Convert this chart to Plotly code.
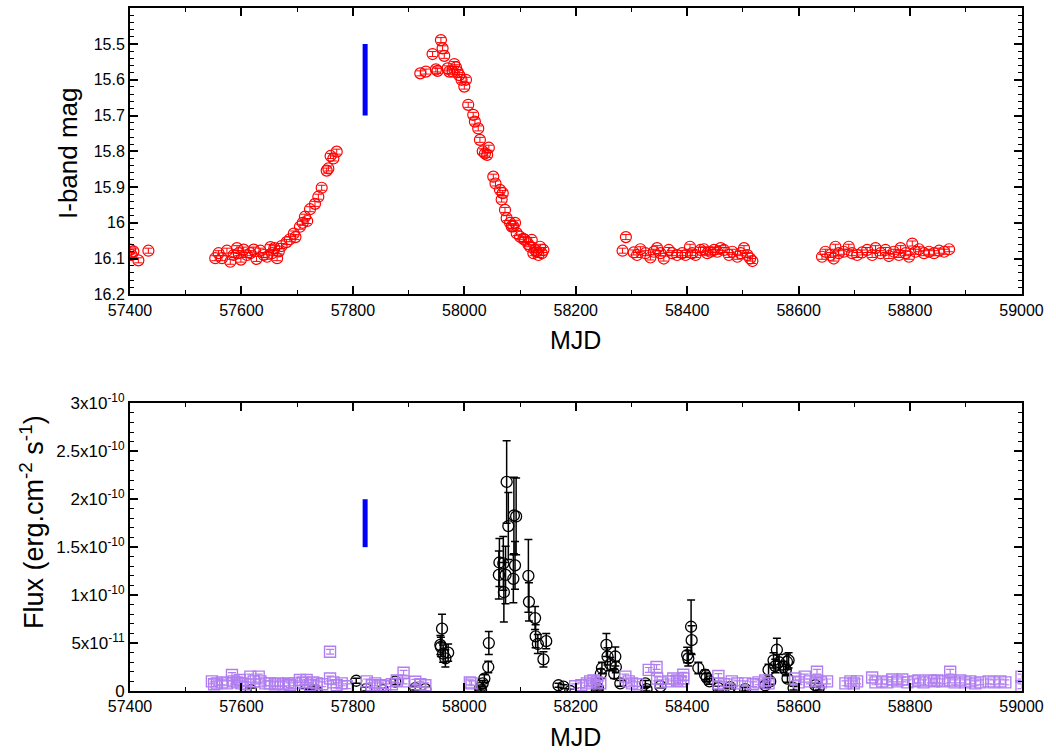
import plotly.graph_objects as go

# ---------------- I-band optical light curve ----------------
iband_mjd = [
    57400, 57403, 57406, 57415, 57433,
    57553, 57559, 57565, 57574, 57580, 57586, 57592, 57595, 57599, 57604,
    57610, 57616, 57622, 57627, 57634, 57640, 57646, 57652, 57655, 57659,
    57664, 57667,
    57672, 57681, 57687, 57694, 57697, 57705, 57710, 57714, 57718, 57723,
    57732, 57738, 57744, 57753, 57756, 57760, 57765, 57771,
    57921, 57931, 57943, 57949, 57952, 57958, 57961, 57964, 57970, 57973,
    57979, 57982, 57985, 57988, 57991, 57995, 58000, 58003, 58007, 58016,
    58019, 58025, 58028, 58033, 58037, 58041, 58044, 58052, 58056, 58064,
    58067, 58069, 58073, 58076, 58082, 58085, 58088, 58091, 58094, 58100,
    58106, 58109, 58115, 58118, 58121, 58124, 58127, 58130, 58133, 58136,
    58139, 58142,
    58284, 58290, 58304, 58310, 58316, 58325, 58334, 58340, 58346, 58352,
    58358, 58367, 58373, 58382, 58391, 58397, 58405, 58409, 58415, 58424,
    58430, 58436, 58442, 58448, 58454, 58460, 58466, 58475, 58481, 58490,
    58496, 58502, 58508, 58513, 58517,
    58642, 58648, 58657, 58663, 58666, 58672, 58681, 58690, 58696, 58705,
    58714, 58723, 58732, 58738, 58747, 58756, 58762, 58771, 58780, 58783,
    58792, 58798, 58804, 58810, 58816, 58825, 58834, 58843, 58852, 58861,
    58870,
]
iband_mag = [
    16.075, 16.090, 16.080, 16.105, 16.078,
    16.099, 16.085, 16.099, 16.078, 16.109, 16.090, 16.071, 16.085, 16.103, 16.075,
    16.090, 16.085, 16.075, 16.101, 16.078, 16.090, 16.095, 16.068, 16.085, 16.071,
    16.099, 16.080,
    16.065, 16.054, 16.046, 16.030, 16.040, 16.011, 16.000, 15.983, 15.995, 15.962,
    15.947, 15.927, 15.902, 15.854, 15.848, 15.813, 15.820, 15.801,
    15.582, 15.577, 15.528, 15.571, 15.575, 15.489, 15.512, 15.533, 15.568, 15.577,
    15.577, 15.556, 15.565, 15.578, 15.587, 15.600, 15.619, 15.600, 15.670, 15.698,
    15.717, 15.736, 15.768, 15.800, 15.806, 15.810, 15.790, 15.871, 15.890, 15.908,
    15.935, 15.917, 15.964, 15.987, 16.000, 16.010, 16.010, 16.000, 16.029, 16.039,
    16.045, 16.048, 16.060, 16.067, 16.048, 16.085, 16.076, 16.080, 16.090, 16.067,
    16.085, 16.076,
    16.078, 16.040, 16.083, 16.090, 16.074, 16.085, 16.097, 16.081, 16.071, 16.085,
    16.100, 16.076, 16.085, 16.090, 16.085, 16.090, 16.067, 16.085, 16.090, 16.076,
    16.074, 16.085, 16.081, 16.076, 16.081, 16.071, 16.076, 16.090, 16.081, 16.095,
    16.085, 16.071, 16.090, 16.100, 16.107,
    16.095, 16.081, 16.090, 16.100, 16.067, 16.085, 16.081, 16.067, 16.085, 16.090,
    16.083, 16.076, 16.090, 16.071, 16.085, 16.076, 16.093, 16.081, 16.090, 16.071,
    16.085, 16.095, 16.058, 16.081, 16.074, 16.085, 16.081, 16.085, 16.078, 16.081,
    16.074,
]
iband_err = 0.007

# Reference epoch marker (vertical bar) in both panels
marker_mjd = [57822, 57822]
marker_mag = [15.5, 15.7]
marker_flux = [1.5e-10, 2.0e-10]

# ---------------- X-ray flux (black circles) ----------------
xray_mjd = [
    57617, 57714, 57726, 57732, 57735, 57806, 57824, 57854, 57876, 57912,
    57930, 57957, 57958, 57960, 57962, 57966, 57971,
    58028, 58030, 58033, 58036, 58043, 58044,
    58062, 58063, 58070, 58071, 58074, 58076, 58079, 58088, 58089, 58091,
    58093, 58115, 58116, 58127, 58128, 58132, 58142, 58147,
    58169, 58178, 58190, 58238, 58240, 58245, 58247, 58255, 58257, 58262,
    58269, 58271, 58272, 58280, 58325, 58327, 58352,
    58400, 58402, 58407, 58408, 58420, 58432, 58435, 58440, 58456, 58474,
    58477, 58504, 58540, 58546, 58549, 58555, 58558, 58561, 58565, 58573,
    58577, 58579, 58580, 58582, 58591, 58630, 58636,
]
xray_flux = [
    0.1e-11, 0.05e-11, 0.0, 0.1e-11, 0.0, 1.07e-11, 0.2e-11, 0.1e-11, 0.97e-11, 0.3e-11,
    0.2e-11, 4.8e-11, 4.6e-11, 6.5e-11, 3.9e-11, 3.4e-11, 4.0e-11,
    0.3e-11, 0.1e-11, 0.8e-11, 1.3e-11, 2.5e-11, 5.0e-11,
    12.1e-11, 13.4e-11, 13.3e-11, 10.3e-11, 12.1e-11, 21.8e-11, 17.2e-11, 11.7e-11, 18.3e-11, 13.1e-11,
    18.2e-11, 12.0e-11, 9.3e-11, 7.6e-11, 5.7e-11, 4.9e-11, 3.3e-11, 5.2e-11,
    0.6e-11, 0.45e-11, 0.0, 0.1e-11, 0.3e-11, 1.8e-11, 2.4e-11, 4.8e-11, 3.6e-11, 2.8e-11,
    1.8e-11, 3.6e-11, 2.5e-11, 0.8e-11, 0.8e-11, 0.2e-11, 0.5e-11,
    3.75e-11, 3.4e-11, 6.7e-11, 5.3e-11, 2.4e-11, 1.7e-11, 1.4e-11, 1.0e-11, 0.3e-11, 0.1e-11,
    0.4e-11, 0.2e-11, 0.6e-11, 2.2e-11, 1.0e-11, 3.2e-11, 2.6e-11, 4.3e-11, 3.0e-11, 2.5e-11,
    2.2e-11, 3.05e-11, 1.3e-11, 3.2e-11, 0.3e-11, 0.6e-11, 0.3e-11,
]
xray_err = [
    0.2e-11, 0.2e-11, 0.2e-11, 0.2e-11, 0.2e-11, 0.25e-11, 0.2e-11, 0.2e-11, 0.3e-11, 0.2e-11,
    0.2e-11, 1.0e-11, 1.0e-11, 1.5e-11, 0.9e-11, 0.9e-11, 0.9e-11,
    0.2e-11, 0.2e-11, 0.3e-11, 0.4e-11, 0.6e-11, 1.2e-11,
    2.5e-11, 2.5e-11, 2.8e-11, 3.1e-11, 3.0e-11, 4.3e-11, 3.5e-11, 2.5e-11, 4.0e-11, 2.5e-11,
    4.0e-11, 3.8e-11, 2.0e-11, 1.2e-11, 1.2e-11, 1.0e-11, 0.8e-11, 0.8e-11,
    0.2e-11, 0.2e-11, 0.2e-11, 0.2e-11, 0.2e-11, 0.5e-11, 0.6e-11, 1.2e-11, 0.9e-11, 0.7e-11,
    0.5e-11, 1.0e-11, 0.6e-11, 0.3e-11, 0.3e-11, 0.2e-11, 0.2e-11,
    0.8e-11, 0.8e-11, 2.8e-11, 1.5e-11, 0.6e-11, 0.5e-11, 0.4e-11, 0.3e-11, 0.2e-11, 0.2e-11,
    0.2e-11, 0.2e-11, 0.3e-11, 0.6e-11, 0.3e-11, 0.8e-11, 0.7e-11, 1.2e-11, 0.8e-11, 0.6e-11,
    0.6e-11, 0.8e-11, 0.4e-11, 0.8e-11, 0.2e-11, 0.2e-11, 0.2e-11,
]

# ---------------- Monitor flux (purple squares) ----------------
mon_mjd = [
    57547, 57551, 57556, 57565, 57574, 57583, 57586, 57592, 57597, 57600,
    57607, 57616, 57622, 57631, 57634, 57643, 57651, 57660, 57666, 57675,
    57684, 57687, 57696, 57705, 57710, 57717, 57723, 57729, 57735, 57745,
    57759, 57759, 57765, 57771, 57780, 57789, 57825, 57834, 57840, 57849,
    57858, 57870, 57879, 57891, 57891, 57912, 57921, 57930, 58010, 58013,
    58199, 58210, 58220, 58226, 58232, 58238, 58244, 58289, 58295, 58301,
    58310, 58331, 58345, 58346, 58352, 58366, 58375, 58382, 58388, 58393,
    58393, 58456, 58456, 58466, 58480, 58490, 58504, 58518, 58528, 58540,
    58546, 58594, 58600, 58611, 58620, 58633, 58633, 58640, 58651, 58684,
    58693, 58699, 58705, 58732, 58738, 58750, 58759, 58768, 58777, 58786,
    58795, 58808, 58815, 58824, 58837, 58843, 58849, 58858, 58872, 58872,
    58880, 58890, 58899, 58908, 58917, 58926, 58941, 58950, 58962, 58971,
    59000, 59000,
]
mon_flux = [
    1.0e-11, 0.7e-11, 0.8e-11, 0.9e-11, 0.8e-11, 1.67e-11, 1.0e-11, 0.9e-11, 1.15e-11, 0.8e-11,
    0.7e-11, 1.5e-11, 1.0e-11, 1.5e-11, 1.0e-11, 0.8e-11, 0.8e-11, 0.7e-11, 0.8e-11, 0.7e-11,
    0.8e-11, 0.6e-11, 0.8e-11, 1.15e-11, 0.9e-11, 1.15e-11, 0.6e-11, 0.9e-11, 0.8e-11, 0.7e-11,
    4.1e-11, 1.3e-11, 0.9e-11, 0.6e-11, 0.8e-11, 0.5e-11, 1.0e-11, 0.6e-11, 0.8e-11, 0.6e-11,
    0.5e-11, 0.7e-11, 1.1e-11, 1.9e-11, 1.0e-11, 0.97e-11, 0.7e-11, 0.6e-11, 0.9e-11, 0.8e-11,
    0.5e-11, 0.6e-11, 0.8e-11, 1.0e-11, 1.1e-11, 0.9e-11, 0.8e-11, 1.5e-11, 1.0e-11, 0.8e-11,
    0.7e-11, 2.2e-11, 2.5e-11, 1.3e-11, 0.9e-11, 1.0e-11, 1.3e-11, 1.1e-11, 1.0e-11, 1.7e-11,
    1.3e-11, 1.56e-11, 0.8e-11, 0.7e-11, 1.0e-11, 0.8e-11, 0.8e-11, 0.7e-11, 0.9e-11, 1.1e-11,
    0.8e-11, 1.3e-11, 0.9e-11, 1.5e-11, 1.0e-11, 2.0e-11, 1.1e-11, 0.9e-11, 1.0e-11, 0.8e-11,
    1.0e-11, 0.8e-11, 1.0e-11, 1.4e-11, 0.9e-11, 1.0e-11, 0.9e-11, 1.2e-11, 1.0e-11, 1.2e-11,
    0.9e-11, 1.0e-11, 1.1e-11, 0.9e-11, 1.1e-11, 1.0e-11, 1.1e-11, 1.0e-11, 2.0e-11, 1.1e-11,
    0.9e-11, 1.1e-11, 0.9e-11, 1.0e-11, 0.8e-11, 0.9e-11, 1.0e-11, 0.9e-11, 1.0e-11, 0.9e-11,
    1.5e-11, 0.5e-11,
]
mon_err = 0.25e-11

# ---------------- Axis ticks ----------------
mjd_ticks = [57400, 57600, 57800, 58000, 58200, 58400, 58600, 58800, 59000]
mjd_ticktext = [str(v) for v in mjd_ticks]
mag_ticks = [15.4, 15.5, 15.6, 15.7, 15.8, 15.9, 16.0, 16.1, 16.2]
mag_ticktext = ["15.4", "15.5", "15.6", "15.7", "15.8", "15.9", "16", "16.1", "16.2"]
flux_ticks = [0, 5e-11, 1e-10, 1.5e-10, 2e-10, 2.5e-10, 3e-10]
flux_ticktext = ["0", "5x10<sup>-11</sup>", "1x10<sup>-10</sup>", "1.5x10<sup>-10</sup>",
                 "2x10<sup>-10</sup>", "2.5x10<sup>-10</sup>", "3x10<sup>-10</sup>"]

W, H = 1056, 755
FONT = "Liberation Sans, Arial, Helvetica, sans-serif"
RED = "#ff0000"
PURPLE = "#b07ef0"
BLUE = "#0000ff"

fig = go.Figure()

# top panel
fig.add_trace(go.Scatter(
    x=iband_mjd, y=iband_mag, mode="markers", xaxis="x", yaxis="y",
    marker=dict(symbol="circle-open", size=11, color=RED, line=dict(width=1.2, color=RED)),
    error_y=dict(type="constant", value=iband_err, color=RED, thickness=1, width=4),
    showlegend=False,
))
fig.add_trace(go.Scatter(
    x=marker_mjd, y=marker_mag, mode="lines", xaxis="x", yaxis="y",
    line=dict(color=BLUE, width=5), showlegend=False,
))

# bottom panel
fig.add_trace(go.Scatter(
    x=xray_mjd, y=xray_flux, mode="markers", xaxis="x2", yaxis="y2",
    marker=dict(symbol="circle-open", size=11, color="black", line=dict(width=1.3, color="black")),
    error_y=dict(type="data", array=xray_err, color="black", thickness=1.5, width=4),
    showlegend=False,
))
fig.add_trace(go.Scatter(
    x=mon_mjd, y=mon_flux, mode="markers", xaxis="x2", yaxis="y2",
    marker=dict(symbol="square-open", size=11, color=PURPLE, line=dict(width=1.4, color=PURPLE)),
    error_y=dict(type="constant", value=mon_err, color=PURPLE, thickness=1.2, width=4),
    showlegend=False,
))
fig.add_trace(go.Scatter(
    x=marker_mjd, y=marker_flux, mode="lines", xaxis="x2", yaxis="y2",
    line=dict(color=BLUE, width=5), showlegend=False,
))

XDOM = [130 / W, 1021.5 / W]
TOP_DOM = [1 - 294.3 / H, 1 - 8.3 / H]
BOT_DOM = [1 - 691 / H, 1 - 403.3 / H]

axis_common = dict(
    showline=True, linecolor="black", linewidth=2, mirror="allticks",
    ticks="inside", ticklen=8, tickwidth=1.5, tickcolor="black",
    showgrid=False, zeroline=False, automargin=False,
)
tick_font = dict(family=FONT, size=16, color="black")
minor_x = dict(dtick=100, tick0=57400, ticks="inside", ticklen=4, tickwidth=1.2, tickcolor="black")

fig.update_layout(
    width=W, height=H,
    margin=dict(l=0, r=0, t=0, b=0),
    paper_bgcolor="white", plot_bgcolor="white",
    font=dict(family=FONT, color="black"),
    xaxis=dict(domain=XDOM, anchor="y", range=[57400, 59000], tickvals=mjd_ticks,
               ticktext=mjd_ticktext, minor=minor_x, tickfont=tick_font, **axis_common),
    yaxis=dict(domain=TOP_DOM, anchor="x", range=[16.2, 15.4], tickvals=mag_ticks,
               ticktext=mag_ticktext, tickfont=tick_font,
               minor=dict(dtick=0.02, tick0=15.4, ticks="inside", ticklen=4, tickwidth=1.2, tickcolor="black"),
               **axis_common),
    xaxis2=dict(domain=XDOM, anchor="y2", range=[57400, 59000], tickvals=mjd_ticks,
                ticktext=mjd_ticktext, minor=minor_x, tickfont=tick_font, **axis_common),
    yaxis2=dict(domain=BOT_DOM, anchor="x2", range=[0, 3e-10], tickvals=flux_ticks,
                ticktext=flux_ticktext, tickfont=dict(family=FONT, size=17, color="black"),
                minor=dict(dtick=1e-11, tick0=0, ticks="inside", ticklen=4, tickwidth=1.2, tickcolor="black"),
                **axis_common),
    annotations=[
        dict(text="MJD", xref="paper", yref="paper", x=575.75 / W, y=1 - 340 / H,
             showarrow=False, font=dict(family=FONT, size=25), xanchor="center", yanchor="middle"),
        dict(text="MJD", xref="paper", yref="paper", x=575.75 / W, y=1 - 737 / H,
             showarrow=False, font=dict(family=FONT, size=25), xanchor="center", yanchor="middle"),
        dict(text="I-band mag", xref="paper", yref="paper", x=68 / W, y=1 - 153 / H,
             showarrow=False, textangle=-90, font=dict(family=FONT, size=26),
             xanchor="center", yanchor="middle"),
        dict(text="Flux (erg.cm<sup>-2</sup> s<sup>-1</sup>)", xref="paper", yref="paper",
             x=32 / W, y=1 - 522 / H,
             showarrow=False, textangle=-90, font=dict(family=FONT, size=27),
             xanchor="center", yanchor="middle"),
    ],
)

fig.write_html("out.html")
